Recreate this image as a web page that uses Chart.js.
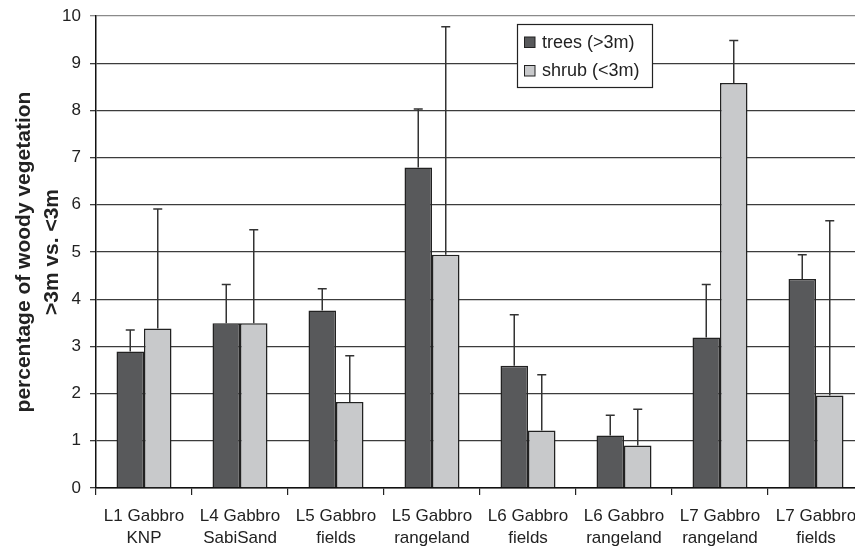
<!DOCTYPE html>
<html>
<head>
<meta charset="utf-8">
<script src="https://cdn.jsdelivr.net/npm/chart.js@4/dist/chart.umd.min.js"></script>
<style>
  html, body { margin: 0; padding: 0; background: #fff; }
  #wrap { width: 855px; height: 547px; overflow: hidden; }
</style>
</head>
<body>
<div id="wrap"><canvas id="chart" width="880" height="547"></canvas></div>
<script>
// data
const sites = [
    ['L1 Gabbro', 'KNP'],
    ['L4 Gabbro', 'SabiSand'],
    ['L5 Gabbro', 'fields'],
    ['L5 Gabbro', 'rangeland'],
    ['L6 Gabbro', 'fields'],
    ['L6 Gabbro', 'rangeland'],
    ['L7 Gabbro', 'rangeland'],
    ['L7 Gabbro', 'fields']
];
const trees = [2.89, 3.49, 3.76, 6.79, 2.59, 1.11, 3.19, 4.43];
const treesErrTop = [3.35, 4.31, 4.22, 8.03, 3.67, 1.54, 4.31, 4.94];
const shrub = [3.38, 3.49, 1.82, 4.94, 1.22, 0.90, 8.58, 1.96];
const shrubErrTop = [5.91, 5.47, 2.80, 9.77, 2.40, 1.67, 9.48, 5.66];
const yTicks = [0, 1, 2, 3, 4, 5, 6, 7, 8, 9, 10];

const fontFam = '"Liberation Sans", Arial, sans-serif';

// error bars: vertical line from bar top to upper error, with a small cap
const errorBars = {
    id: 'errorBars',
    afterDatasetsDraw(chart) {
        const ctx = chart.ctx;
        const y = chart.scales.y;
        chart.data.datasets.forEach((ds, di) => {
            const meta = chart.getDatasetMeta(di);
            meta.data.forEach((bar, i) => {
                const top = y.getPixelForValue(ds.errTop[i]);
                ctx.save();
                ctx.strokeStyle = '#333';
                ctx.lineWidth = 1.5;
                ctx.beginPath();
                ctx.moveTo(bar.x, bar.y);
                ctx.lineTo(bar.x, top);
                ctx.moveTo(bar.x - 4.5, top);
                ctx.lineTo(bar.x + 4.5, top);
                ctx.stroke();
                ctx.restore();
            });
        });
    }
};

// boxed legend inside the plot
const boxLegend = {
    id: 'boxLegend',
    afterDraw(chart) {
        const ctx = chart.ctx;
        const x0 = 517, y0 = 24, w = 135, h = 63;
        ctx.save();
        ctx.fillStyle = '#fff';
        ctx.fillRect(x0, y0, w, h);
        ctx.strokeStyle = '#222';
        ctx.lineWidth = 1.2;
        ctx.strokeRect(x0 + 0.5, y0 + 0.5, w, h);
        ctx.font = '18px ' + fontFam;
        ctx.textBaseline = 'middle';
        chart.data.datasets.forEach((ds, i) => {
            const cy = y0 + 18 + i * 28.5;
            ctx.fillStyle = ds.backgroundColor;
            ctx.fillRect(x0 + 7.5, cy - 5, 10.5, 10.5);
            ctx.strokeStyle = '#222';
            ctx.lineWidth = 1;
            ctx.strokeRect(x0 + 7.5, cy - 5, 10.5, 10.5);
            ctx.fillStyle = '#222';
            ctx.fillText(ds.label, x0 + 25, cy + 1);
        });
        ctx.restore();
    }
};

var ctx = document.getElementById('chart').getContext('2d');
var mychart = new Chart(ctx, {
    type: 'bar',
    data: {
        labels: sites,
        datasets: [{
            label: 'trees (>3m)',
            data: trees,
            errTop: treesErrTop,
            backgroundColor: '#58595b',
            borderColor: '#222',
            borderWidth: 1.5
        }, {
            label: 'shrub (<3m)',
            data: shrub,
            errTop: shrubErrTop,
            backgroundColor: '#c8c9cb',
            borderColor: '#222',
            borderWidth: 1.5
        }]
    },
    options: {
        responsive: false,
        animation: false,
        categoryPercentage: 0.573,
        barPercentage: 1,
        layout: { padding: { top: 16, right: 16, left: 0, bottom: 0 } },
        plugins: {
            legend: { display: false },
            tooltip: { enabled: false }
        },
        scales: {
            x: {
                afterFit: s => { s.height = 59; s.paddingLeft = 0; s.paddingRight = 0; },
                grid: {
                    offset: true,
                    drawOnChartArea: false,
                    tickLength: 7,
                    color: '#222',
                    lineWidth: 1.2
                },
                border: { color: '#111', width: 1.5 },
                ticks: {
                    color: '#222',
                    padding: 10,
                    maxRotation: 0,
                    autoSkip: false,
                    font: { family: fontFam, size: 17, lineHeight: 1.3 }
                }
            },
            y: {
                min: 0,
                max: 10,
                afterFit: s => { s.width = 96; s.paddingTop = 0; s.paddingBottom = 0; },
                afterBuildTicks: s => { s.ticks = yTicks.map(v => ({ value: v })); },
                grid: {
                    color: c => (c.tick && c.tick.value === 10) ? '#8a8a8a' : '#3c3c3c',
                    lineWidth: 1.3,
                    tickLength: 6
                },
                border: { color: '#111', width: 1.5 },
                ticks: {
                    color: '#222',
                    padding: 9,
                    font: { family: fontFam, size: 17 }
                },
                title: {
                    display: true,
                    text: ['percentage of woody vegetation', '>3m vs. <3m'],
                    color: '#222',
                    padding: { top: 11, bottom: 0 },
                    font: { family: fontFam, size: 21, weight: 'bold', lineHeight: 1.3 }
                }
            }
        }
    },
    plugins: [errorBars, boxLegend]
});
</script>
</body>
</html>
